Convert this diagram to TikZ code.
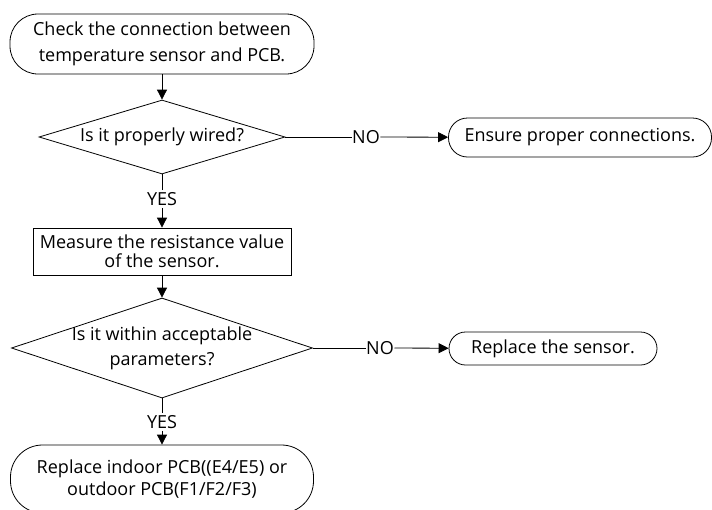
\documentclass[tikz,border=0pt]{standalone}
\usepackage{fontspec}
\setmainfont{Open Sans}
\usetikzlibrary{shapes.geometric,arrows.meta}
\tikzset{
  flowline/.style={draw, line width=0.8pt},
  arrowline/.style={flowline, -{Triangle[length=10pt,width=10pt]}},
  terminal/.style={draw, line width=0.8pt, align=center, inner sep=0pt, rounded corners=#1},
  process/.style={draw, line width=0.8pt, align=center, inner sep=0pt},
  decision/.style={draw, line width=0.8pt, diamond, align=center, inner sep=0pt},
  branch/.style={inner xsep=0.5pt, inner ysep=2pt}
}
\begin{document}
\begin{tikzpicture}[x=1pt,y=-1pt,font=\fontsize{18}{21}\selectfont]
  \useasboundingbox (0,0) rectangle (712,509);
  \clip (0,0) rectangle (712,509);
  \node[terminal=28, minimum width=304, minimum height=60] (check) at (162,44) {Check the connection between\\[5pt]temperature sensor and PCB.};
  \node[decision, aspect=3.3, minimum width=246, minimum height=74] (wired) at (162,137) {Is it properly wired?};
  \node[branch] (no1) at (366,137) {NO};
  \node[terminal=19, minimum width=263, minimum height=39] (ensure) at (580,137.5) {Ensure proper connections.};
  \node[branch] (yes1) at (162,199) {YES};
  \node[process, minimum width=258, minimum height=47] (measure) at (162,251.5) {Measure the resistance value\\[-2pt]of the sensor.};
  \node[decision, aspect=3.01, minimum width=301, minimum height=100, inner ysep=-3pt] (param) at (162,348) {Is it within acceptable\\[4pt]parameters?};
  \node[branch] (no2) at (380,348) {NO};
  \node[terminal=16.5, minimum width=208, minimum height=33] (sensor) at (553,348.5) {Replace the sensor.};
  \node[branch] (yes2) at (162,422) {YES};
  \node[terminal=32, minimum width=303, minimum height=68] (pcb) at (162,479) {Replace indoor PCB((E4/E5) or\\[1pt]outdoor PCB(F1/F2/F3)};
  \draw[arrowline] (check) -- (wired);
  \draw[flowline] (wired) -- (no1);  \draw[arrowline] (no1) -- (ensure);
  \draw[flowline] (wired) -- (yes1); \draw[arrowline] (yes1) -- (measure);
  \draw[arrowline] (measure) -- (param);
  \draw[flowline] (param) -- (no2);  \draw[arrowline] (no2) -- (sensor);
  \draw[flowline] (param) -- (yes2); \draw[arrowline] (yes2) -- (pcb);
\end{tikzpicture}
\end{document}
